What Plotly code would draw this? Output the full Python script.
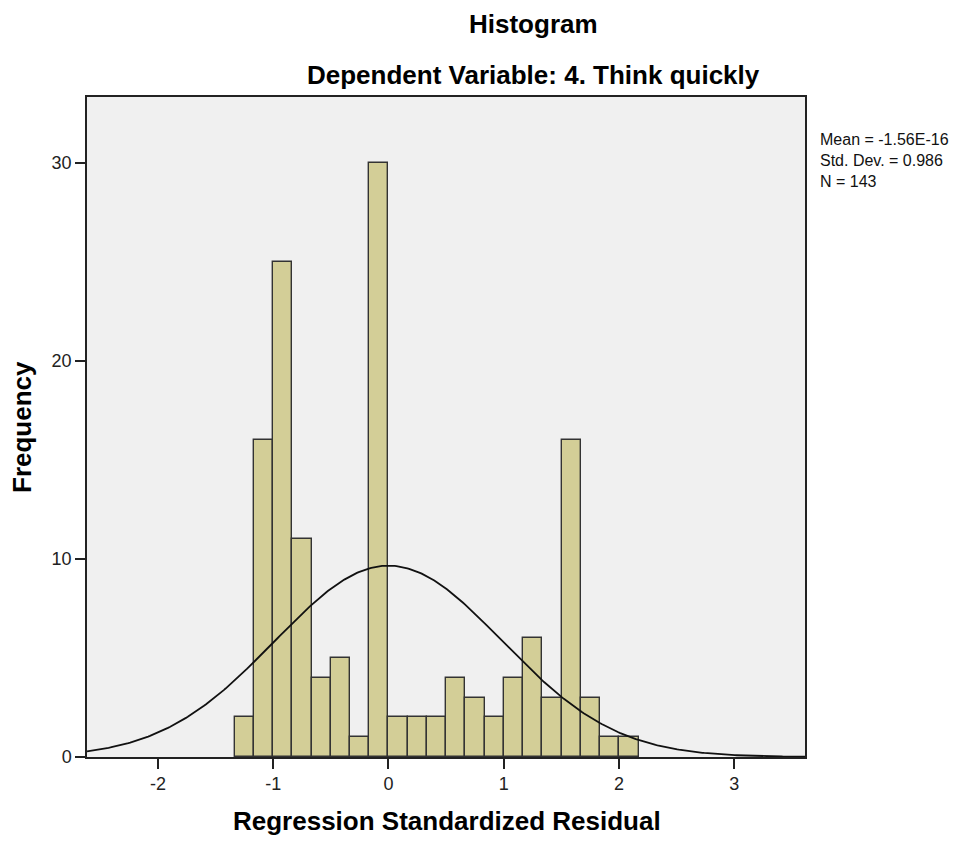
import numpy as np
import plotly.graph_objects as go

# Histogram of standardized regression residuals
bin_start = -1.336
bin_width = 0.1670
counts = [2, 16, 25, 11, 4, 5, 1, 30, 2, 2, 2, 4, 3, 2, 4, 6, 3, 16, 3, 1, 1]

# Summary statistics shown beside the plot
mean_label = "-1.56E-16"
mean_val = -1.56e-16
std_val = 0.986
n_val = 143

x_ticks = [-2, -1, 0, 1, 2, 3]
y_ticks = [0, 10, 20, 30]
x_range = [-2.616, 3.614]
y_range = [0, 33.33]

centers = [bin_start + bin_width * (i + 0.5) for i in range(len(counts))]

# Normal curve scaled to frequency units
xs = np.linspace(x_range[0], x_range[1], 400)
ys = n_val * bin_width / (std_val * np.sqrt(2 * np.pi)) * np.exp(-0.5 * ((xs - mean_val) / std_val) ** 2)

FONT = "Liberation Sans"

fig = go.Figure()
fig.add_trace(go.Bar(
    x=centers, y=counts, width=bin_width,
    marker=dict(color="#D3CE97", line=dict(color="#333333", width=1.4)),
    showlegend=False, hoverinfo="skip",
))
fig.add_trace(go.Scatter(
    x=xs, y=ys, mode="lines",
    line=dict(color="#111111", width=1.8),
    showlegend=False, hoverinfo="skip",
))

L, R, T, B = 87, 167, 97, 85
W, H = 972, 842
pw, ph = W - L - R, H - T - B


def px(x):
    return (x - L) / pw


def py(y):
    return (H - B - y) / ph


def label(text, x, y, size, angle=0, anchor="center", color="#000000"):
    return dict(text=text, x=px(x), y=py(y), xref="paper", yref="paper",
                xanchor=anchor, yanchor="middle", showarrow=False, textangle=angle,
                align="left", font=dict(family=FONT, size=size, color=color))


anns = [
    label("<b>Histogram</b>", 533, 24, 26),
    label("<b>Dependent Variable: 4. Think quickly</b>", 533, 75, 26),
    label("<b>Regression Standardized Residual</b>", 447, 821, 26),
    label("<b>Frequency</b>", 22, 427, 26, angle=-90),
    label(f"Mean = {mean_label}<br>Std. Dev. = {std_val}<br>N = {n_val}",
          818, 160, 16, anchor="left", color="#111111"),
]

fig.update_layout(
    width=W, height=H, autosize=False,
    margin=dict(l=L, r=R, t=T, b=B, pad=0),
    paper_bgcolor="#FFFFFF", plot_bgcolor="#F0F0F0",
    bargap=0, annotations=anns,
    font=dict(family=FONT, color="#222222"),
)
axis_style = dict(
    showgrid=False, zeroline=False, showline=True, linecolor="#222222", linewidth=1.5,
    mirror=True, ticks="outside", ticklen=10, tickwidth=1.5, tickcolor="#222222",
    tickfont=dict(family=FONT, size=18, color="#222222"),
)
fig.update_xaxes(range=x_range, tickvals=x_ticks, ticktext=[str(t) for t in x_ticks], **axis_style)
fig.update_yaxes(range=y_range, tickvals=y_ticks, ticktext=[str(t) for t in y_ticks], **axis_style)

fig.write_html("out.html")
